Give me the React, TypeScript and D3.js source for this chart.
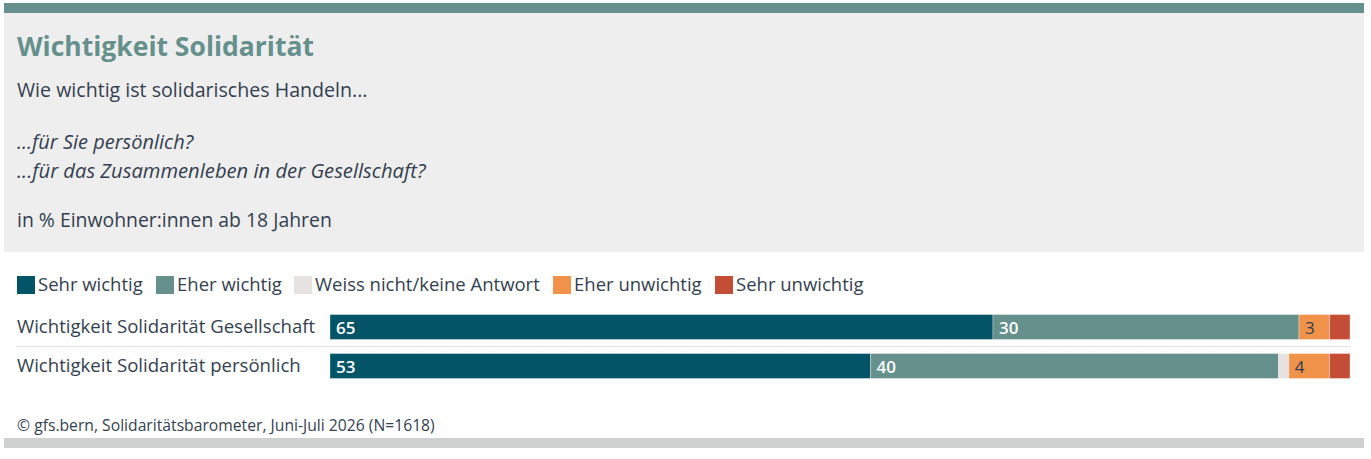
import React, { useEffect, useRef } from "react";
import * as d3 from "d3";

const categories = [
  "Wichtigkeit Solidarität Gesellschaft",
  "Wichtigkeit Solidarität persönlich",
];
const seriesNames = [
  "Sehr wichtig",
  "Eher wichtig",
  "Weiss nicht/keine Antwort",
  "Eher unwichtig",
  "Sehr unwichtig",
];
const sehrWichtig = [65, 53];
const eherWichtig = [30, 40];
const weissNicht = [0, 1];
const eherUnwichtig = [3, 4];
const sehrUnwichtig = [2, 2];
const colors = ["#035467", "#66908c", "#e6e2df", "#f0924a", "#c44d35"];
const labelColors = ["#ffffff", "#ffffff", "#333f4f", "#333f4f", "#ffffff"];
const legendX = [17, 156, 294, 553, 715];

const FONT = "'Open Sans', sans-serif";
const TEXT = "#333f4f";

const App = () => {
  const ref = useRef<SVGSVGElement>(null);

  useEffect(() => {
    draw();
  }, []);

  const draw = () => {
    const svg = d3.select(ref.current);
    svg.selectAll("*").remove();

    // header box
    svg.append("rect").attr("x", 4).attr("y", 12).attr("width", 1360).attr("height", 240).attr("fill", "#eeeeee");
    svg.append("rect").attr("x", 4).attr("y", 3).attr("width", 1360).attr("height", 10).attr("fill", "#66908c");
    svg.append("rect").attr("x", 4).attr("y", 438).attr("width", 1360).attr("height", 10).attr("fill", "#cfd1d0");

    const txt = (x: number, y: number, s: string, size: number, opts: any = {}) =>
      svg
        .append("text")
        .attr("x", x)
        .attr("y", y)
        .attr("font-family", FONT)
        .attr("font-size", size)
        .attr("font-weight", opts.weight || 400)
        .attr("font-style", opts.italic ? "italic" : "normal")
        .attr("fill", opts.fill || TEXT)
        .text(s);

    txt(17, 56, "Wichtigkeit Solidarität", 26.5, { weight: 700, fill: "#66908c" });
    txt(17, 97, "Wie wichtig ist solidarisches Handeln...", 19.6);
    txt(17, 149, "...für Sie persönlich?", 20, { italic: true });
    txt(17, 178, "...für das Zusammenleben in der Gesellschaft?", 20.2, { italic: true });
    txt(17, 227, "in % Einwohner:innen ab 18 Jahren", 19.4);

    // legend
    seriesNames.forEach((s, i) => {
      svg.append("rect").attr("x", legendX[i]).attr("y", 276).attr("width", 18).attr("height", 18).attr("fill", colors[i]);
      txt(legendX[i] + 21, 291, s, 18.5);
    });

    const rows = categories.map((c, i) => ({
      cat: c,
      "Sehr wichtig": sehrWichtig[i],
      "Eher wichtig": eherWichtig[i],
      "Weiss nicht/keine Antwort": weissNicht[i],
      "Eher unwichtig": eherUnwichtig[i],
      "Sehr unwichtig": sehrUnwichtig[i],
    }));
    const stacked = d3.stack<any>().keys(seriesNames)(rows);

    const x = d3.scaleLinear().domain([0, 100]).range([330, 1350]);
    const y = d3
      .scaleBand()
      .domain(categories)
      .range([307.5, 385.5])
      .paddingInner(0.36)
      .paddingOuter(0.18);

    // row labels
    categories.forEach((c) => {
      txt(17, (y(c) as number) + y.bandwidth() / 2 + 6, c, 18.6);
    });

    // separator
    svg
      .append("line")
      .attr("x1", 17)
      .attr("x2", 1350)
      .attr("y1", 346.5)
      .attr("y2", 346.5)
      .attr("stroke", "#d9d9d9")
      .attr("stroke-dasharray", "2,1");

    stacked.forEach((layer, i) => {
      const g = svg.append("g");
      g.selectAll("rect")
        .data(layer)
        .enter()
        .append("rect")
        .attr("x", (d) => x(d[0]))
        .attr("y", (d) => y(d.data.cat) as number)
        .attr("width", (d) => x(d[1]) - x(d[0]))
        .attr("height", y.bandwidth())
        .attr("fill", colors[i])
        .attr("stroke", "rgba(255,255,255,0.35)")
        .attr("stroke-width", 1);
      g.selectAll("text")
        .data(layer.filter((d) => d[1] - d[0] >= 3))
        .enter()
        .append("text")
        .attr("x", (d) => x(d[0]) + 6)
        .attr("y", (d) => (y(d.data.cat) as number) + y.bandwidth() / 2 + 6.5)
        .attr("font-family", FONT)
        .attr("font-size", 17)
        .attr("font-weight", i < 2 ? 600 : 400)
        .attr("fill", labelColors[i])
        .text((d) => d3.format("d")(d[1] - d[0]));
    });

    txt(17, 431, "© gfs.bern, Solidaritätsbarometer, Juni-Juli 2026 (N=1618)", 15.7);
  };

  return (
    <svg
      ref={ref}
      width={1371}
      height={459}
      style={{ position: "absolute", left: 0, top: 0, background: "#ffffff" }}
    />
  );
};

export default App;
